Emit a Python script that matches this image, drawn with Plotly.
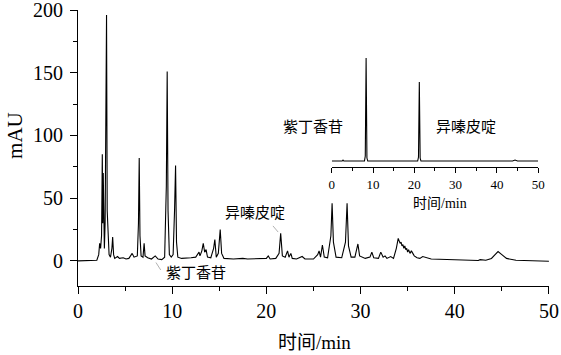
import plotly.graph_objects as go

# Main chromatogram (time in min, signal in mAU)
t_main = [0, 1.6, 2.0, 2.2, 2.3, 2.4, 2.5, 2.58, 2.63, 2.68, 2.74, 2.8, 2.88, 2.97, 3.03, 3.1,
          3.2, 3.3, 3.45, 3.6, 3.68, 3.78, 3.9, 4.2, 4.4, 4.8, 5.1, 5.4, 5.75, 5.95, 6.3,
          6.42, 6.5, 6.58, 6.7, 6.9, 7.02, 7.12, 7.4, 7.8, 8.2, 8.5, 8.9, 9.2, 9.38, 9.47,
          9.56, 9.7, 9.9, 10.1, 10.25, 10.36, 10.46, 10.6, 11.0, 11.5, 12.0, 12.5, 12.85,
          12.95, 13.15, 13.3, 13.45, 13.6, 13.75, 14.1, 14.4, 14.53, 14.68, 14.9, 15.1,
          15.25, 15.5, 16.5, 17.5, 18.0, 19.5, 20.0, 20.2, 20.4, 21.0, 21.35, 21.52, 21.7,
          22.0, 22.25, 22.4, 22.6, 22.75, 23.2, 23.8, 24.1, 25.0, 25.45, 25.6, 25.75, 25.95,
          26.15, 26.5, 26.85, 26.98, 27.12, 27.4, 28.0, 28.4, 28.57, 28.72, 29.0, 29.4,
          29.72, 29.9, 30.5, 31.0, 31.2, 31.4, 31.9, 32.15, 32.4, 32.6, 32.8, 33.2, 33.5,
          33.8, 34.0, 34.2, 34.3, 34.4, 34.5, 34.6, 34.7, 34.8, 34.9, 35.0, 35.1, 35.25,
          35.4, 35.7, 36.0, 36.3, 36.6, 37.5, 40.0, 42.0, 42.5, 42.7, 43.3, 43.9, 44.3,
          44.6, 45.0, 45.5, 46.5, 50.0]
v_main = [0, 0, 0.5, 5, 14, 10, 20, 85, 30, 70, 20, 10, 30, 98, 196, 40,
          12, 5, 3, 10, 19, 5, 2, 3.5, 2, 2.5, 1.5, 2, 6, 3, 4,
          30, 82, 20, 4, 3, 14, 4, 2.5, 1.5, 4, 1.5, 1, 3, 60, 151,
          40, 5, 3, 5, 40, 76, 15, 3, 2, 2, 2.5, 3, 7,
          4, 8, 14, 7, 9, 3, 2.5, 10, 17, 3, 6, 25,
          6, 2, 1.5, 2, 1.5, 1.5, 2, 4, 1.5, 2, 6, 22, 4,
          3, 8, 3, 6, 2, 1.5, 3.5, 1.5, 1.5, 5, 8, 3, 12.7,
          3, 2.5, 20, 46, 15, 3, 2.5, 15, 46, 12, 3, 3,
          13.5, 4, 2, 3, 7, 2.5, 2, 7, 3, 4, 2, 3.5, 2,
          10, 18, 14, 15, 12, 13, 10, 12, 9, 10, 7, 9, 6, 8,
          4, 2.5, 2, 3.5, 1.5, 1, 0.5, 0.3, 1, 0.5, 2, 5, 7.5,
          5, 2, 0.5, -0.3, -0.5]

# Inset: standard sample chromatogram
t_inset = [0, 2.5, 2.7, 2.9, 7.9, 8.1, 8.3, 8.5, 8.7, 20.8, 21.0, 21.2, 21.4, 21.6, 43.8, 44.4, 45.0, 50]
v_inset = [0, 0, 1, 0, 0, 5, 103, 3, 0, 0, 4, 79, 3, 0, 0, 1, 0, 0]

x_ticks = [0, 10, 20, 30, 40, 50]
y_ticks = [0, 50, 100, 150, 200]

SERIF = "Liberation Serif"
CJK = "Liberation Serif, Noto Sans CJK SC"

fig = go.Figure()
fig.add_trace(go.Scatter(x=t_main, y=v_main, mode="lines",
                         line=dict(color="black", width=1.1), xaxis="x", yaxis="y",
                         showlegend=False, hoverinfo="skip"))
fig.add_trace(go.Scatter(x=t_inset, y=v_inset, mode="lines",
                         line=dict(color="black", width=1.1), xaxis="x2", yaxis="y2",
                         showlegend=False, hoverinfo="skip"))

axis_common = dict(showgrid=False, zeroline=False, showline=True, linecolor="black",
                   linewidth=1.2, ticks="outside", tickcolor="black", tickwidth=1.2,
                   ticklabeloverflow="allow", automargin=False)

fig.update_layout(
    template="simple_white",
    width=561, height=355,
    margin=dict(l=78, r=12, t=10, b=69),
    paper_bgcolor="white", plot_bgcolor="white",
    font=dict(family=SERIF, color="black"),
    xaxis=dict(range=[0, 50.01], tickvals=x_ticks, ticklen=7,
               tickfont=dict(size=20, family=SERIF, color="black"),
               minor=dict(dtick=5, ticklen=4, ticks="outside", tickcolor="black", tickwidth=1.2),
               **axis_common),
    yaxis=dict(range=[-20, 200.01], tickvals=y_ticks, ticklen=7, ticklabelstandoff=3,
               tickfont=dict(size=20, family=SERIF, color="black"),
               minor=dict(dtick=25, ticklen=4, ticks="outside", tickcolor="black", tickwidth=1.2),
               **axis_common),
    xaxis2=dict(domain=[0.539, 0.977], anchor="y2", range=[0, 50.01], tickvals=x_ticks,
                ticklen=5, tickfont=dict(size=13, family=SERIF, color="black"),
                minor=dict(dtick=5, ticklen=3, ticks="outside", tickcolor="black", tickwidth=1),
                **{**axis_common, "linewidth": 1}),
    yaxis2=dict(domain=[0.431, 0.837], anchor="x2", range=[-6, 106], visible=False),
    annotations=[
        dict(text="mAU", xref="paper", yref="paper", x=-0.134, y=0.547, showarrow=False,
             textangle=-90, font=dict(size=21, family=SERIF), xanchor="center", yanchor="middle"),
        dict(text="时间/min", xref="paper", yref="paper", x=0.503, y=-0.249, showarrow=False,
             font=dict(size=19, family=CJK), xanchor="center", yanchor="bottom"),
        dict(text="异嗪皮啶", xref="x", yref="y", x=18.8, y=38.2, showarrow=False,
             font=dict(size=15, family=CJK), xanchor="center", yanchor="middle"),
        dict(text="紫丁香苷", xref="x", yref="y", x=12.5, y=-9.6, showarrow=False,
             font=dict(size=15, family=CJK), xanchor="center", yanchor="middle"),
        dict(text="紫丁香苷", xref="paper", yref="paper", x=0.499, y=0.576, showarrow=False,
             font=dict(size=15, family=CJK), xanchor="center", yanchor="middle"),
        dict(text="异嗪皮啶", xref="paper", yref="paper", x=0.823, y=0.577, showarrow=False,
             font=dict(size=15, family=CJK), xanchor="center", yanchor="middle"),
        dict(text="时间/min", xref="paper", yref="paper", x=0.768, y=0.300, showarrow=False,
             font=dict(size=14, family=CJK), xanchor="center", yanchor="middle"),
    ],
    shapes=[
        dict(type="line", xref="x", yref="y", x0=20.7, y0=27.9, x1=21.25, y1=23.0,
             line=dict(color="black", width=1)),
        dict(type="line", xref="x", yref="y", x0=8.28, y0=-1.3, x1=8.78, y1=-7.2,
             line=dict(color="black", width=1)),
    ],
)

fig.write_html("out.html")
